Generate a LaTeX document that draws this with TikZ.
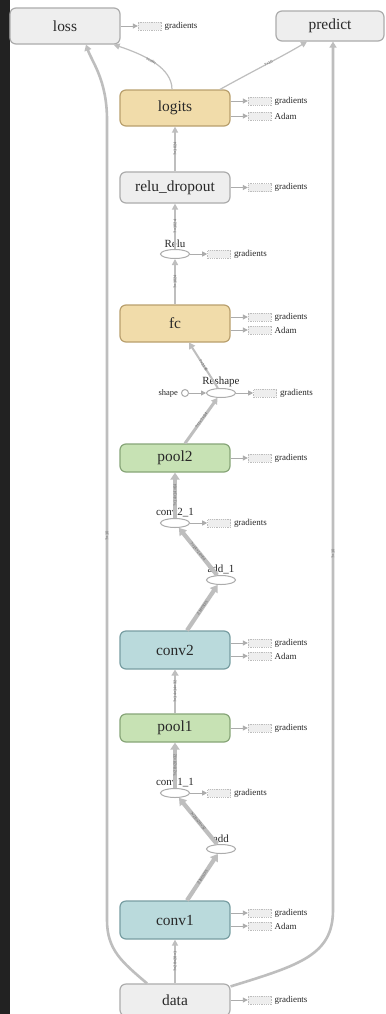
\documentclass[tikz,border=0pt]{standalone}
\usepackage{fontspec}
\setmainfont{Liberation Serif}
\newfontfamily\edgefont{Liberation Sans}
\usetikzlibrary{arrows.meta,shapes.geometric,positioning}

\definecolor{opgray}{RGB}{238,238,238}
\definecolor{opgrayline}{RGB}{172,172,172}
\definecolor{optan}{RGB}{241,220,170}
\definecolor{optanline}{RGB}{185,160,110}
\definecolor{opgreen}{RGB}{199,226,180}
\definecolor{opgreenline}{RGB}{135,165,120}
\definecolor{opteal}{RGB}{186,218,220}
\definecolor{optealline}{RGB}{120,158,162}
\definecolor{flow}{RGB}{190,190,190}
\definecolor{ink}{RGB}{40,40,40}
\definecolor{panel}{RGB}{34,34,34}

% side chip: arrow from anchor #2 (raised by #1) to a dashed box named #3, then text #4
\newcommand\sidechip[4][0bp]{%
  \node[chip] (#3) at ([xshift=29bp,yshift=#1]#2) {};
  \node[chiptext] (#3-t) at ([xshift=3bp]#3.east) {#4};
  \draw[aux] ([yshift=#1]#2) -- (#3);
}

\begin{document}
\begin{tikzpicture}[x=1bp,y=-1bp,
  op/.style={rounded corners=6bp, line width=1.2bp, minimum width=110bp,
    minimum height=36bp, inner sep=0pt, font=\fontsize{15.5}{17}\selectfont, text=ink},
  grayop/.style={op, fill=opgray, draw=opgrayline},
  tanop/.style={op, fill=optan, draw=optanline},
  greenop/.style={op, fill=opgreen, draw=opgreenline},
  tealop/.style={op, fill=opteal, draw=optealline},
  oval/.style={ellipse, draw=opgrayline, fill=white, line width=1bp,
    minimum width=29bp, minimum height=9bp, inner sep=0pt,
    label distance=4bp,
    label={[font=\fontsize{11}{12}\selectfont, text=ink, inner sep=1bp]above:#1}},
  chip/.style={draw=opgrayline!80, dash pattern=on 1.2bp off 1bp, fill=opgray,
    line width=0.6bp, minimum width=23bp, minimum height=8bp, inner sep=0pt},
  chiptext/.style={font=\fontsize{9}{10}\selectfont, text=ink, anchor=west, inner sep=0pt},
  aux/.style={draw=opgrayline, line width=0.9bp, -{Triangle[length=5bp,width=5bp]}},
  thin/.style={draw=flow, line width=1.4bp, -{Triangle[length=6bp,width=6bp]}},
  mid/.style={draw=flow, line width=2.6bp, -{Triangle[length=6bp,width=7bp]}},
  thick/.style={draw=flow, line width=4.2bp, -{Triangle[length=7bp,width=9bp]}},
  elabel/.style={font=\edgefont\fontsize{4}{4.5}\selectfont, text=ink!70, sloped, inner sep=0.5pt},
]
\useasboundingbox (0,0) rectangle (385,1014);
\fill[white] (10,0) rectangle (385,1014);
\fill[panel] (0,0) rectangle (10,1014);

% operation nodes
\node[grayop] (loss) at (65,26) {loss};
\node[grayop, minimum width=108bp, minimum height=30bp] (predict) at (330,26) {predict};
\node[tanop] (logits) at (175,108) {logits};
\node[grayop, minimum height=31bp] (relud) at (175,187.5) {relu\_dropout};
\node[oval=Relu] (relu) at (175,254) {};
\node[tanop, minimum height=37bp] (fc) at (175,323.5) {fc};
\node[oval=Reshape] (reshape) at (221,393) {};
\node[circle, draw=opgrayline, fill=white, line width=1bp, minimum size=7bp, inner sep=0pt] (shape) at (185,393) {};
\node[font=\fontsize{8.5}{9}\selectfont, text=ink, anchor=east, inner sep=0pt] (shape-t) at ([xshift=-3bp]shape.west) {shape};
\node[greenop, minimum height=28bp] (pool2) at (175,458) {pool2};
\node[oval=conv2\_1] (conv21) at (175,523) {};
\node[oval=add\_1] (add1) at (221,580) {};
\node[tealop, minimum height=38bp] (conv2) at (175,650) {conv2};
\node[greenop, minimum height=28bp] (pool1) at (175,728) {pool1};
\node[oval=conv1\_1] (conv11) at (175,793) {};
\node[oval=add] (add) at (221,849) {};
\node[tealop, minimum height=38bp] (conv1) at (175,920) {conv1};
\node[grayop, minimum height=32bp] (data) at (175,1000) {data};

% side chips (yshift is upward on the page)
\sidechip{loss.east}{loss-g}{gradients}
\sidechip[7bp]{logits.east}{logits-g}{gradients}
\sidechip[-8bp]{logits.east}{logits-a}{Adam}
\sidechip{relud.east}{relud-g}{gradients}
\sidechip{relu.east}{relu-g}{gradients}
\sidechip[6.5bp]{fc.east}{fc-g}{gradients}
\sidechip[-6.5bp]{fc.east}{fc-a}{Adam}
\sidechip{reshape.east}{reshape-g}{gradients}
\sidechip{pool2.east}{pool2-g}{gradients}
\sidechip{conv21.east}{conv21-g}{gradients}
\sidechip[7bp]{conv2.east}{conv2-g}{gradients}
\sidechip[-6bp]{conv2.east}{conv2-a}{Adam}
\sidechip{pool1.east}{pool1-g}{gradients}
\sidechip{conv11.east}{conv11-g}{gradients}
\sidechip[7bp]{conv1.east}{conv1-g}{gradients}
\sidechip[-6bp]{conv1.east}{conv1-a}{Adam}
\sidechip{data.east}{data-g}{gradients}

\draw[aux] (shape) -- (reshape);

% data flow
\draw[thin] (data) -- node[elabel] {?×28×28×1} (conv1);
\draw[thick] ([xshift=12bp]conv1.north) -- node[elabel] {2 tensors} (add);
\draw[thick] (add) -- node[elabel] {?×28×28×32} (conv11);
\draw[thick] (conv11) -- node[elabel] {?×28×28×32} (pool1);
\draw[mid] (pool1) -- node[elabel] {?×14×14×32} (conv2);
\draw[thick] ([xshift=12bp]conv2.north) -- node[elabel] {2 tensors} (add1);
\draw[thick] (add1) -- node[elabel] {?×14×14×64} (conv21);
\draw[thick, line width=3.6bp] (conv21) -- node[elabel] {?×14×14×64} (pool2);
\draw[mid, line width=3bp] ([xshift=10bp]pool2.north) -- node[elabel] {?×7×7×64} (reshape);
\draw[mid, line width=2bp] (reshape) -- node[elabel] {?×3136} ([xshift=14bp]fc.south);
\draw[thin] (fc) -- node[elabel] {?×1024} (relu);
\draw[thin] (relu) -- node[elabel] {?×1024} (relud);
\draw[thin] (relud) -- node[elabel] {?×1024} (logits);
\draw[thin, line width=1.2bp] ([xshift=-3bp]logits.north) .. controls (172,68) and (145,55)
  .. node[elabel, pos=0.55] {scalar} ([xshift=-7bp]loss.south east);
\draw[thin, line width=1.2bp] ([xshift=45bp]logits.north) .. controls (255,70) and (285,55)
  .. node[elabel, pos=0.5] {?×10} ([xshift=-23bp]predict.south);
\draw[mid] ([xshift=-28bp]data.north) .. controls (122,962) and (107,950) .. (107,920)
  -- node[elabel, pos=0.48] {?×10} (107,120)
  .. controls (107,80) and (92,62) .. ([xshift=21bp]loss.south);
\draw[mid] ([yshift=-3bp]data.north east) .. controls (300,965) and (333,955) .. (333,910)
  -- node[elabel, pos=0.41] {?×10} ([xshift=3bp]predict.south);
\end{tikzpicture}
\end{document}
